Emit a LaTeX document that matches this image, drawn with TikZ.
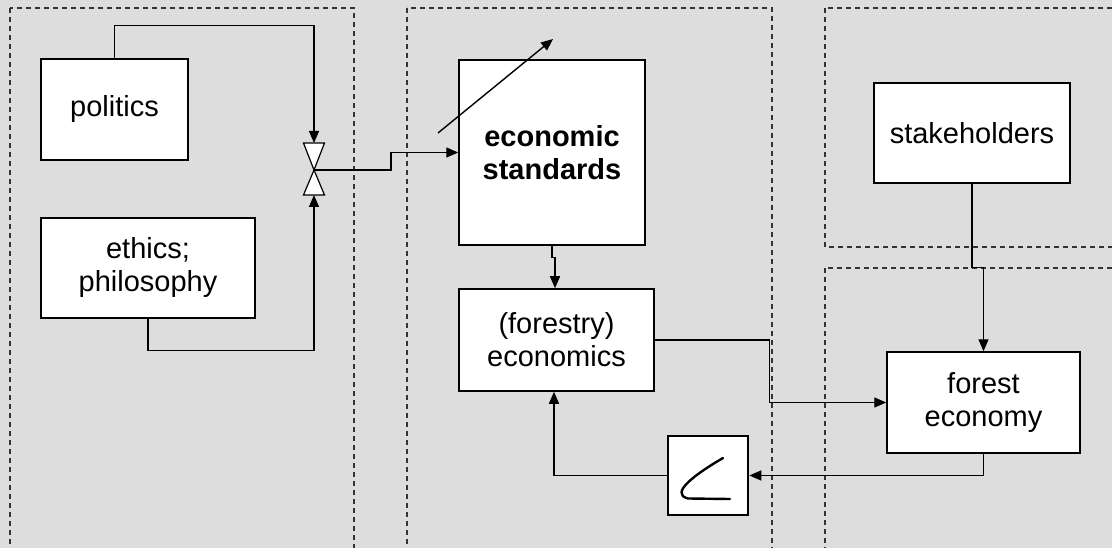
\documentclass[tikz,border=0pt]{standalone}
\usepackage{fontspec}
\setmainfont{Liberation Sans}
\usetikzlibrary{arrows.meta}
\definecolor{bg}{HTML}{DDDDDD}
\definecolor{dashc}{HTML}{333333}
\tikzset{
  region/.style={draw=dashc, line width=1.2pt, dash pattern=on 5pt off 4pt},
  block/.style={draw=black, fill=white, line width=1.5pt, align=center, inner sep=0pt,
    font=\fontsize{29}{33}\selectfont},
  arr/.style={draw=black, line width=1.4pt, -{Triangle[length=12pt,width=10pt]}},
  valvetri/.style={draw=black, fill=white, line width=1.2pt},
}
\begin{document}
\begin{tikzpicture}[x=1pt,y=-1pt]
\useasboundingbox (0,0) rectangle (1112,548);
\fill[bg] (0,0) rectangle (1112,548);
\begin{scope}
\clip (0,0) rectangle (1112,548);
\draw[region] (10,8) rectangle (354,570);
\draw[region] (407,8) rectangle (772,570);
\draw[region] (825,8) rectangle (1130,247);
\draw[region] (825,268) rectangle (1130,570);
\end{scope}

\node[block, minimum width=147pt, minimum height=101pt] (politics) at (114.5,109.5) {politics};
\node[block, minimum width=214pt, minimum height=100pt] (ethics) at (148,268) {ethics;\\philosophy};
\node[block, minimum width=186pt, minimum height=185pt] (econ) at (552,152.5) {\bfseries economic\\\bfseries standards};
\node[block, minimum width=195pt, minimum height=102pt] (forestry) at (556.5,340) {(forestry)\\economics};
\node[block, minimum width=196pt, minimum height=100pt] (stake) at (972,133) {stakeholders};
\node[block, minimum width=193pt, minimum height=101pt] (foreco) at (983.5,402.5) {forest\\economy};
\node[draw=black, fill=white, line width=2.5pt, minimum width=80pt, minimum height=79pt, inner sep=0pt] (curvebox) at (708,475.5) {};

% valve
\coordinate (valve) at (314,170);
\coordinate (vtop) at (314,143);
\coordinate (vbot) at (314,195);
\draw[valvetri] (303.5,143) -- (324.5,143) -- (valve) -- cycle;
\draw[valvetri] (303.5,195) -- (324.5,195) -- (valve) -- cycle;

% curve symbol
\draw[line width=2.4pt, line cap=round] ([shift={(15,-17.5)}]curvebox.center)
  .. controls ([shift={(-10,-3)}]curvebox.center) and ([shift={(-40,18)}]curvebox.center) .. ([shift={(-20,23)}]curvebox.center)
  -- ([shift={(22,23.5)}]curvebox.center);

% connectors
\draw[arr] (politics.north) -- ++(0,-33) -| (vtop);
\draw[arr] (ethics.south) -- ++(0,32) -| (vbot);
\draw[arr] (valve) -- ++(77,0) |- (econ.west);
\coordinate (d1) at (438,133);
\coordinate (d2) at (553,39);
\draw[arr] (d1) -- (d2);
\draw[arr] (econ.south) -- ++(0,12) -| ([xshift=-1.5pt]forestry.north);
\draw[arr] (forestry.east) -- ++(115,0) |- (foreco.west);
\draw[arr] (stake.south) -- ++(0,84) -| (foreco.north);
\draw[arr] (foreco.south) |- (curvebox.east);
\draw[arr] (curvebox.west) -| ([xshift=-2.5pt]forestry.south);
\end{tikzpicture}
\end{document}
